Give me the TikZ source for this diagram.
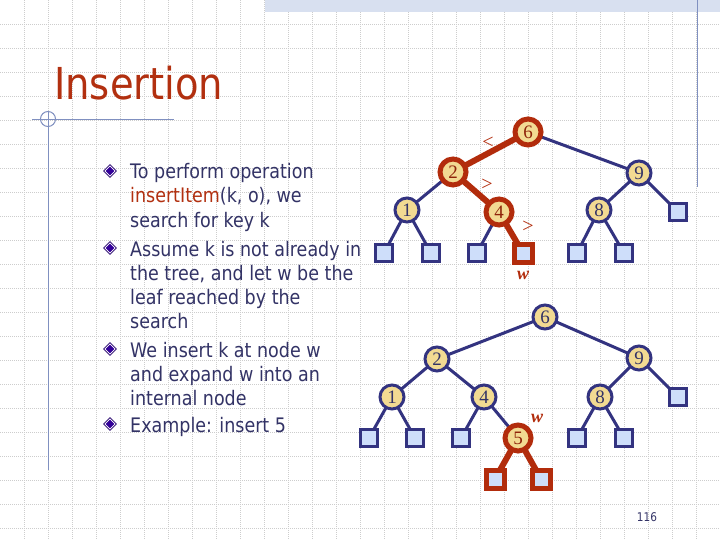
\documentclass[tikz,border=0pt]{standalone}
\usepackage{fontspec}
\setmainfont[FakeStretch=0.875]{DejaVu Sans}
\newfontfamily\numfont{Liberation Serif}
\definecolor{navy}{RGB}{51,51,128}
\definecolor{txt}{RGB}{51,51,102}
\definecolor{tred}{RGB}{178,48,16}
\definecolor{nred}{RGB}{178,44,12}
\definecolor{nyel}{RGB}{242,218,146}
\definecolor{lblue}{RGB}{206,222,250}
\definecolor{gridc}{RGB}{205,205,205}
\definecolor{slate}{RGB}{128,144,192}
\definecolor{band}{RGB}{216,224,240}
\definecolor{bulc}{RGB}{51,0,153}
\pgfdeclarelayer{bg}\pgfdeclarelayer{edges}
\pgfsetlayers{bg,edges,main}
\tikzset{
  inode/.style={circle, draw=navy, line width=3pt, fill=nyel, minimum size=24pt, inner sep=0pt,
    font=\numfont\fontsize{19}{19}\selectfont, text=txt},
  rnode/.style={circle, draw=nred, line width=5pt, fill=nyel, minimum size=26pt, inner sep=0pt,
    font=\numfont\fontsize{19}{19}\selectfont, text=nred!80!black},
  leaf/.style={rectangle, draw=navy, line width=3pt, fill=lblue, minimum size=17pt, inner sep=0pt},
  rleaf/.style={rectangle, draw=nred, line width=5pt, fill=lblue, minimum size=18pt, inner sep=0pt},
  edge/.style={navy, line width=3pt},
  redge/.style={nred, line width=6pt},
  bodytext/.style={anchor=base west, inner sep=0pt, text=txt, font=\fontsize{20}{24}\selectfont},
  cmp/.style={text=nred, font=\numfont\fontsize{20}{20}\selectfont, inner sep=0pt},
  wlabel/.style={text=nred, font=\numfont\bfseries\itshape\fontsize{18}{18}\selectfont, inner sep=0pt},
  gridline/.style={gridc, line width=0.7pt, dash pattern=on 1pt off 1pt},
  deco/.style={slate, line width=1pt}
}
\newcommand\mybullet[2]{%
  \fill[bulc!70!black] (#1,#2) +(-6.8,0) -- +(0,-6.8) -- +(6.8,0) -- +(0,6.8) -- cycle;
  \fill[white] (#1,#2) +(-5.6,0) -- +(0,-5.6) -- +(5.6,0) -- +(0,5.6) -- cycle;
  \fill[bulc] (#1,#2) +(-4.4,0) -- +(0,-4.4) -- +(4.4,0) -- +(0,4.4) -- cycle;}
\begin{document}
\begin{tikzpicture}[x=1pt,y=-1pt]
\useasboundingbox (0,0) rectangle (720,540);
\begin{pgfonlayer}{bg}
  \fill[white] (0,0) rectangle (720,540);
  \foreach \x in {24,48,...,696} \draw[gridline] (\x,0) -- (\x,540);
  \foreach \y in {24,48,...,528} \draw[gridline] (0,\y) -- (720,\y);
  \fill[band] (265,0) rectangle (720,12.5);
  \draw[deco] (697,0) -- (697,187);
  \draw[deco] (32,120) -- (174,120);
  \draw[deco] (48,111) -- (48,470);
  \draw[deco] (48,119) circle (7.5);
\end{pgfonlayer}

% title
\node[anchor=base west, inner sep=0pt, text=tred, font=\fontsize{44}{44}\selectfont] (title) at (54,100) {Insertion};

% bullets and text
\mybullet{110}{171}
\mybullet{110}{248}
\mybullet{110}{349}
\mybullet{110}{424}
\node[bodytext] (l1) at (130,179) {To perform operation};
\node[bodytext] (l2) at (130,203) {\textcolor{tred}{insertItem}(k, o), we};
\node[bodytext] (l3) at (130,227) {search for key k};
\node[bodytext] (l4) at (130,256) {Assume k is not already in};
\node[bodytext] (l5) at (130,280) {the tree, and let w be the};
\node[bodytext] (l6) at (130,304) {leaf reached by the};
\node[bodytext] (l7) at (130,328) {search};
\node[bodytext] (l8) at (130,357) {We insert k at node w};
\node[bodytext] (l9) at (130,381) {and expand w into an};
\node[bodytext] (l10) at (130,405) {internal node};
\node[bodytext] (l11) at (130,432) {Example: insert 5};

% top tree
\node[rnode] (a6) at (528,132) {6};
\node[rnode] (a2) at (453,172) {2};
\node[inode] (a9) at (639,173) {9};
\node[inode] (a1) at (407,210) {1};
\node[rnode] (a4) at (499,212) {4};
\node[inode] (a8) at (599,210) {8};
\node[leaf] (a9r) at (678,212) {};
\node[leaf] (a1l) at (384,253) {};
\node[leaf] (a1r) at (431,253) {};
\node[leaf] (a4l) at (477,253) {};
\node[rleaf] (aw) at (523,253) {};
\node[leaf] (a8l) at (577,253) {};
\node[leaf] (a8r) at (624,253) {};
\begin{pgfonlayer}{edges}
  \draw[redge] (a6.center) -- (a2.center);
  \draw[redge] (a2.center) -- (a4.center);
  \draw[redge] (a4.center) -- (aw.center);
  \draw[edge] (a6.center) -- (a9.center);
  \draw[edge] (a2.center) -- (a1.center);
  \draw[edge] (a1.center) -- (a1l.center);
  \draw[edge] (a1.center) -- (a1r.center);
  \draw[edge] (a4.center) -- (a4l.center);
  \draw[edge] (a9.center) -- (a8.center);
  \draw[edge] (a9.center) -- (a9r.center);
  \draw[edge] (a8.center) -- (a8l.center);
  \draw[edge] (a8.center) -- (a8r.center);
\end{pgfonlayer}
\node[cmp] (c1) at (488,143) {<};
\node[cmp] (c2) at (487,185) {>};
\node[cmp] (c3) at (528,227) {>};
\node[wlabel] (w1) at (523,275) {w};

% bottom tree
\node[inode] (b6) at (545,317) {6};
\node[inode] (b2) at (437,359) {2};
\node[inode] (b9) at (639,358) {9};
\node[inode] (b1) at (392,397) {1};
\node[inode] (b4) at (484,397) {4};
\node[inode] (b8) at (600,397) {8};
\node[leaf] (b9r) at (678,397) {};
\node[leaf] (b1l) at (369,438) {};
\node[leaf] (b1r) at (415,438) {};
\node[leaf] (b4l) at (461,438) {};
\node[rnode] (b5) at (518,438) {5};
\node[leaf] (b8l) at (577,438) {};
\node[leaf] (b8r) at (624,438) {};
\node[rleaf] (b5l) at (495,479) {};
\node[rleaf] (b5r) at (541,479) {};
\begin{pgfonlayer}{edges}
  \draw[edge] (b6.center) -- (b2.center);
  \draw[edge] (b6.center) -- (b9.center);
  \draw[edge] (b2.center) -- (b1.center);
  \draw[edge] (b2.center) -- (b4.center);
  \draw[edge] (b1.center) -- (b1l.center);
  \draw[edge] (b1.center) -- (b1r.center);
  \draw[edge] (b4.center) -- (b4l.center);
  \draw[edge] (b4.center) -- (b5.center);
  \draw[edge] (b9.center) -- (b8.center);
  \draw[edge] (b9.center) -- (b9r.center);
  \draw[edge] (b8.center) -- (b8l.center);
  \draw[edge] (b8.center) -- (b8r.center);
  \draw[redge] (b5.center) -- (b5l.center);
  \draw[redge] (b5.center) -- (b5r.center);
\end{pgfonlayer}
\node[wlabel] (w2) at (537,418) {w};

% page number
\node[inner sep=0pt, text=txt, font=\fontsize{12}{12}\selectfont] (pg) at (647,517) {116};
\end{tikzpicture}
\end{document}
